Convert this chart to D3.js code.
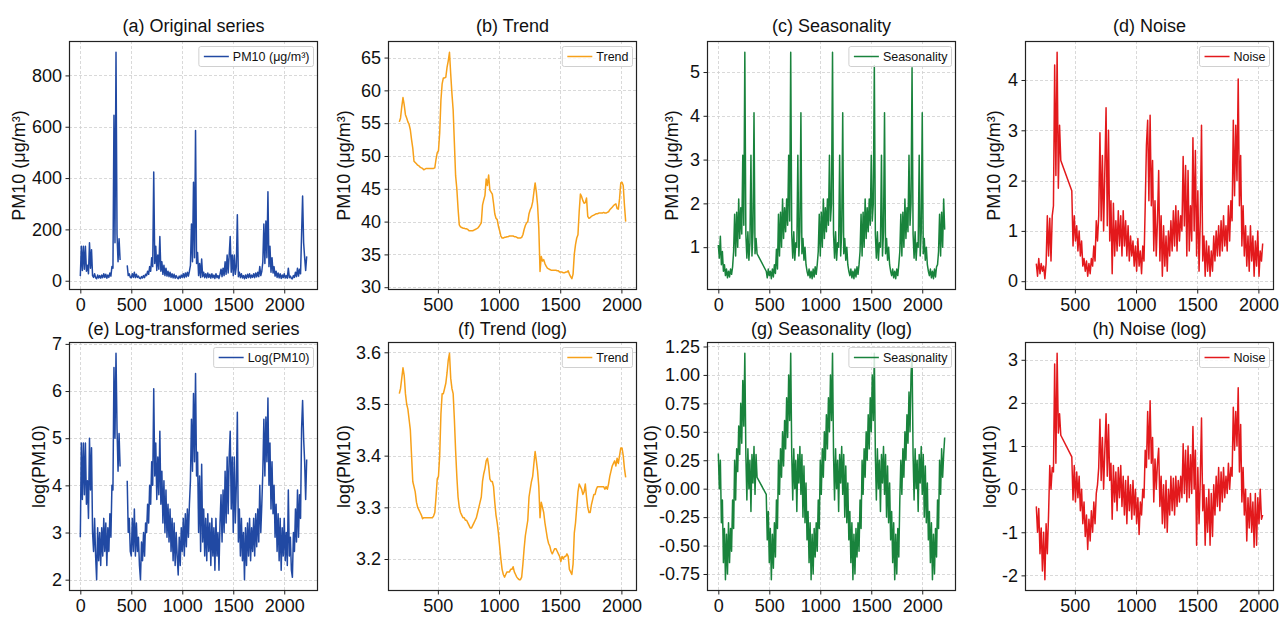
<!DOCTYPE html>
<html>
<head>
  <meta charset="utf-8">
  <title>PM10 decomposition</title>
  <style>
    body { margin: 0; background: #fff; }
    svg#canvas { display: block; font-family: "Liberation Sans", Arial, sans-serif; }
  </style>
</head>
<body>
  <svg id="canvas" width="1282" height="618"></svg>
  <script src="https://cdn.jsdelivr.net/npm/d3@7"></script>
  <script>

    // one value every 10 time steps; null = missing stretch
    const step = 10;

    const origStart = 0;
    const origVals = [
      18, 134, 40, 134, 45, 134, 37, 60, 27, 148,
      49, 121, 20, 13, 27, 12, 8, 22, 11, 20,
      10, 22, 12, 27, 13, 25, 10, 22, 13, 30,
      18, 55, 49, 645, 148, 890, 181, 74, 164, 81,
      null, null, null, null, null, null, 60, 20, 27, 13,
      12, 27, 13, 33, 12, 25, 13, 18, 10, 8,
      16, 11, 20, 12, 25, 20, 37, 25, 55, 37,
      90, 55, 424, 67, 134, 40, 100, 45, 172, 37,
      74, 25, 60, 20, 49, 18, 37, 16, 33, 13,
      27, 11, 25, 10, 20, 12, 8, 18, 10, 22,
      13, 27, 12, 30, 15, 33, 18, 37, 60, 221,
      74, 384, 90, 585, 67, 110, 20, 67, 13, 85,
      16, 33, 12, 27, 11, 30, 13, 25, 10, 27,
      12, 22, 9, 27, 12, 20, 9, 25, 45, 16,
      49, 20, 74, 25, 100, 30, 100, 172, 33, 100,
      20, 100, 25, 55, 257, 16, 33, 12, 27, 11,
      20, 8, 22, 10, 25, 12, 27, 11, 22, 13,
      27, 12, 30, 15, 33, 16, 55, 20, 37, 74,
      221, 67, 233, 90, 347, 55, 134, 33, 90, 30,
      55, 18, 37, 13, 30, 11, 27, 9, 22, 12,
      27, 11, 20, 10, 49, 12, 18, 9, 8, 20,
      13, 33, 16, 49, 18, 45, 27, 181, 330, 148,
      90, 40, 95
    ];

    const logVals = [
      2.9, 4.9, 3.7, 4.9, 3.8, 4.9, 3.6, 4.1, 3.3, 5.0,
      3.9, 4.8, 3.0, 2.6, 3.3, 2.5, 2.0, 3.1, 2.4, 3.0,
      2.3, 3.1, 2.5, 3.3, 2.6, 3.2, 2.3, 3.1, 2.6, 3.4,
      2.9, 4.0, 3.9, 6.5, 5.0, 6.8, 5.2, 4.3, 5.1, 4.4,
      null, null, null, null, null, null, 4.1, 3.0, 3.3, 2.6,
      2.5, 3.3, 2.6, 3.5, 2.5, 3.2, 2.6, 2.9, 2.3, 2.0,
      2.8, 2.4, 3.0, 2.5, 3.2, 3.0, 3.6, 3.2, 4.0, 3.6,
      4.5, 4.0, 6.05, 4.2, 4.9, 3.7, 4.6, 3.8, 5.15, 3.6,
      4.3, 3.2, 4.1, 3.0, 3.9, 2.9, 3.6, 2.8, 3.5, 2.6,
      3.3, 2.4, 3.2, 2.3, 3.0, 2.5, 2.1, 2.9, 2.3, 3.1,
      2.6, 3.3, 2.5, 3.4, 2.7, 3.5, 2.9, 3.6, 4.1, 5.4,
      4.3, 5.95, 4.5, 6.37, 4.2, 4.7, 3.0, 4.2, 2.6, 4.45,
      2.8, 3.5, 2.5, 3.3, 2.4, 3.4, 2.6, 3.2, 2.3, 3.3,
      2.5, 3.1, 2.2, 3.3, 2.5, 3.0, 2.2, 3.2, 3.8, 2.8,
      3.9, 3.0, 4.3, 3.2, 4.6, 3.4, 4.6, 5.15, 3.5, 4.6,
      3.0, 4.6, 3.2, 4.0, 5.55, 2.8, 3.5, 2.5, 3.3, 2.4,
      3.0, 2.0, 3.1, 2.3, 3.2, 2.5, 3.3, 2.4, 3.1, 2.6,
      3.3, 2.5, 3.4, 2.7, 3.5, 2.8, 4.0, 3.0, 3.6, 4.3,
      5.4, 4.2, 5.45, 4.5, 5.85, 4.0, 4.9, 3.5, 4.5, 3.4,
      4.0, 2.9, 3.6, 2.6, 3.4, 2.4, 3.3, 2.2, 3.1, 2.5,
      3.3, 2.4, 3.0, 2.3, 3.9, 2.5, 2.9, 2.2, 2.05, 3.0,
      2.6, 3.5, 2.8, 3.9, 2.9, 3.8, 3.3, 5.2, 5.8, 5.0,
      4.5, 3.7, 4.55
    ];

    const seasVals = [
      1.05, 0.75, 1.25, 0.6, 0.9, 0.45, 0.6, 0.35, 0.5, 0.3,
      0.45, 0.32, 0.5, 0.38, 0.55, 0.9, 1.75, 0.8, 1.8, 1.0,
      2.1, 1.2, 1.9, 1.3, 3.1, 1.5, 5.45, 1.3, 0.75, 1.35,
      0.7, 1.1, 3.1, 0.8, 1.35, 4.07, 0.85, 1.2, 0.85, null,
      null, null, null, null, null, null, null, 0.45, 0.3, 0.5,
      0.35, 0.45, 0.28, 0.5, 0.32, 0.6, 0.4, 0.95, 0.5, 1.75,
      0.8, 1.8, 1.0, 2.1, 1.2, 1.9, 1.35, 2.1, 1.5, 3.1,
      1.6, 5.45, 1.3, 0.75, 1.35, 0.7, 1.1, 1.0, 3.1, 0.8,
      1.35, 4.07, 0.85, 1.2, 0.7, 1.0, 0.6, 0.45, 0.35, 0.5,
      0.3, 0.45, 0.28, 0.5, 0.32, 0.55, 0.38, 0.6, 0.9, 1.75,
      0.8, 1.8, 1.0, 2.1, 1.2, 1.9, 1.35, 2.1, 1.5, 3.1,
      1.6, 2.0, 5.45, 1.3, 0.75, 1.35, 0.7, 1.1, 1.0, 3.1,
      0.8, 1.35, 4.07, 0.85, 1.2, 0.7, 1.0, 0.6, 0.45, 0.35,
      0.5, 0.3, 0.45, 0.28, 0.5, 0.32, 0.55, 0.38, 0.6, 0.9,
      1.75, 0.8, 1.8, 1.0, 2.1, 1.2, 1.9, 1.35, 2.1, 1.5,
      3.1, 1.6, 2.0, 5.15, 1.3, 0.75, 1.35, 0.7, 1.1, 1.0,
      3.1, 0.8, 1.35, 4.07, 0.85, 1.2, 0.7, 1.0, 0.6, 0.45,
      0.35, 0.5, 0.3, 0.45, 0.28, 0.5, 0.35, 0.6, 0.9, 1.75,
      0.8, 1.8, 1.0, 2.1, 1.2, 1.9, 1.35, 3.1, 1.5, 2.0,
      5.1, 1.3, 0.75, 1.35, 0.7, 1.1, 1.0, 3.1, 0.8, 1.35,
      4.07, 0.85, 1.2, 0.7, 1.0, 0.6, 0.45, 0.35, 0.5, 0.3,
      0.45, 0.28, 0.5, 0.32, 0.55, 0.6, 0.9, 1.75, 0.8, 1.8,
      1.0, 2.1, 1.4
    ];

    const logSeasVals = [
      0.31, 0.0, 0.25, -0.3, -0.1, -0.65, -0.35, -0.8, -0.4, -0.75,
      -0.3, -0.65, -0.35, -0.55, -0.1, -0.35, 0.25, -0.1, 0.35, 0.15,
      0.55, 0.3, 0.75, 0.4, 0.95, 0.55, 1.19, 0.3, -0.1, 0.35,
      0.0, 0.25, -0.2, 0.3, 0.05, 0.37, -0.05, 0.3, 0.1, null,
      null, null, null, null, null, null, null, -0.05, -0.45, -0.2,
      -0.65, -0.35, -0.8, -0.4, -0.7, -0.3, -0.6, -0.1, -0.35, 0.25,
      -0.05, 0.35, 0.1, 0.5, 0.2, 0.6, 0.35, 0.8, 0.45, 1.0,
      0.6, 1.19, 0.3, -0.1, 0.35, 0.0, 0.25, -0.2, 0.3, 0.05,
      0.37, -0.05, 0.3, -0.25, 0.2, -0.3, 0.05, -0.45, -0.2, -0.65,
      -0.3, -0.8, -0.4, -0.75, -0.35, -0.6, -0.3, -0.55, -0.1, -0.35,
      0.25, -0.05, 0.35, 0.1, 0.5, 0.25, 0.65, 0.35, 0.8, 0.5,
      1.0, 0.6, 1.19, 0.3, -0.1, 0.35, 0.0, 0.25, -0.2, 0.3,
      0.05, 0.37, -0.05, 0.3, -0.25, 0.2, -0.3, 0.05, -0.45, -0.2,
      -0.65, -0.3, -0.8, -0.4, -0.75, -0.35, -0.6, -0.3, -0.55, -0.1,
      -0.35, 0.25, -0.05, 0.35, 0.1, 0.5, 0.25, 0.65, 0.35, 0.8,
      0.5, 1.0, 0.6, 1.19, 0.3, -0.1, 0.35, 0.0, 0.25, -0.2,
      0.3, 0.05, 0.37, -0.05, 0.3, -0.25, 0.2, -0.3, 0.05, -0.45,
      -0.2, -0.65, -0.3, -0.8, -0.4, -0.75, -0.35, -0.6, -0.1, 0.25,
      -0.05, 0.35, 0.1, 0.5, 0.25, 0.65, 0.4, 0.85, 0.5, 1.0,
      1.19, 0.3, -0.1, 0.35, 0.0, 0.25, -0.2, 0.3, 0.05, 0.37,
      -0.05, 0.3, -0.25, 0.2, -0.3, 0.05, -0.45, -0.2, -0.65, -0.3,
      -0.8, -0.4, -0.75, -0.35, -0.6, -0.1, -0.35, 0.25, -0.05, 0.35,
      0.1, 0.3, 0.45
    ];

    const trendStart = 185;
    const trendVals = [
      55.2, 55.8, 57.5, 58.9, 57.8, 56.3, 55.8, 55.2, 54.8, 54.0,
      52.5, 51.2, 49.2, 49.0, 48.8, 48.6, 48.5, 48.3, 48.2, 48.1,
      47.9, 48.0, 48.1, 48.1, 48.1, 48.1, 48.1, 48.1, 48.1, 48.2,
      49.5, 50.5, 50.8, 53.5, 58.5, 61.0, 61.9, 61.9, 62.0, 63.5,
      64.5, 65.8, 62.5, 59.5, 57.0, 52.0, 47.0, 45.0, 42.0, 39.5,
      39.2, 39.1, 39.0, 39.0, 38.9, 38.9, 38.8, 38.6, 38.6, 38.6,
      38.6, 38.7, 38.8, 38.9, 39.0, 39.2, 39.5, 39.8, 42.5, 43.3,
      44.0, 46.5, 45.5, 47.1, 44.8, 44.5, 44.2, 42.8, 41.2, 40.5,
      40.3, 39.3, 38.6, 37.8, 37.5, 37.5, 37.6, 37.6, 37.7, 37.7,
      37.8, 37.8, 37.8, 37.8, 37.7, 37.7, 37.6, 37.5, 37.5, 37.5,
      37.6, 38.0, 38.8, 39.4, 39.8, 40.0, 41.2, 41.8, 42.2, 43.0,
      44.5, 45.9, 44.5, 42.5, 39.0, 32.4, 34.7, 34.0, 34.2, 33.6,
      33.2, 32.9, 32.8, 32.7, 32.6, 32.6, 32.6, 32.6, 32.6, 32.5,
      32.5, 32.3, 32.3, 32.3, 32.2, 32.2, 32.3, 32.3, 32.5, 32.0,
      31.6, 31.3, 32.0, 35.0, 36.5, 37.5, 38.0, 41.5, 44.2, 43.8,
      43.2, 42.8, 42.9, 43.6, 40.8, 40.5, 40.6, 40.8, 40.9, 41.0,
      41.1, 41.2, 41.2, 41.3, 41.3, 41.3, 41.3, 41.4, 41.3, 41.3,
      41.4, 41.5, 41.8, 42.0, 42.2, 42.4, 42.6, 42.7, 42.0, 41.9,
      43.5, 45.9, 46.0, 45.5, 42.5, 40.0
    ];

    const logTrendVals = [
      3.52, 3.53, 3.55, 3.57, 3.555, 3.52, 3.50, 3.49, 3.47, 3.45,
      3.40, 3.35, 3.34, 3.33, 3.31, 3.30, 3.295, 3.29, 3.285, 3.278,
      3.28, 3.28, 3.28, 3.28, 3.28, 3.28, 3.28, 3.28, 3.283, 3.29,
      3.32, 3.355, 3.36, 3.40, 3.48, 3.52, 3.52, 3.53, 3.54, 3.56,
      3.585, 3.598, 3.55, 3.53, 3.52, 3.47, 3.41, 3.36, 3.32, 3.30,
      3.29, 3.285, 3.28, 3.28, 3.275, 3.275, 3.27, 3.265, 3.26, 3.26,
      3.265, 3.27, 3.275, 3.28, 3.29, 3.30, 3.31, 3.32, 3.35, 3.365,
      3.375, 3.39, 3.395, 3.38, 3.355, 3.35, 3.35, 3.34, 3.31, 3.285,
      3.27, 3.25, 3.225, 3.20, 3.18, 3.17, 3.165, 3.17, 3.175, 3.175,
      3.175, 3.18, 3.18, 3.185, 3.175, 3.17, 3.165, 3.162, 3.16, 3.16,
      3.165, 3.19, 3.22, 3.245, 3.26, 3.275, 3.32, 3.335, 3.35, 3.36,
      3.385, 3.408, 3.39, 3.37, 3.34, 3.28, 3.31, 3.30, 3.29, 3.27,
      3.255, 3.24, 3.23, 3.225, 3.215, 3.21, 3.215, 3.22, 3.22, 3.215,
      3.21, 3.205, 3.195, 3.205, 3.20, 3.205, 3.205, 3.21, 3.205, 3.18,
      3.175, 3.17, 3.19, 3.25, 3.27, 3.30, 3.33, 3.345, 3.34, 3.335,
      3.325, 3.33, 3.345, 3.32, 3.30, 3.29, 3.29, 3.305, 3.315, 3.325,
      3.325, 3.335, 3.34, 3.34, 3.34, 3.34, 3.34, 3.34, 3.335, 3.34,
      3.335, 3.345, 3.36, 3.37, 3.38, 3.385, 3.39, 3.38, 3.395, 3.385,
      3.40, 3.415, 3.415, 3.40, 3.375, 3.358
    ];

    const noiseVals = [
      0.35, 0.1, 0.45, 0.15, 0.35, 0.2, 0.3, 0.05, 0.35, 1.3,
      0.5, 1.25, 0.4, 1.3, 1.5, 4.3, 2.1, 4.55, 1.85, 3.1,
      2.4, null, null, null, null, null, null, null, null, 1.8,
      0.7, 1.3, 0.8, 1.1, 0.6, 1.0, 0.5, 0.8, 0.3, 0.45,
      0.2, 0.4, 0.1, 0.35, 0.15, 0.45, 0.3, 0.7, 0.4, 1.2,
      0.8, 1.3, 2.95, 1.2, 2.5, 1.0, 2.2, 3.45, 1.1, 3.0,
      0.8, 1.6, 0.15, 1.55, 0.5, 1.2, 0.6, 1.4, 0.7, 1.3,
      0.5, 1.4, 0.7, 1.2, 0.5, 1.1, 0.4, 0.9, 0.5, 0.8,
      0.3, 0.7, 0.2, 0.85, 0.3, 0.6, 0.15, 0.7, 0.4, 1.5,
      2.7, 3.2, 1.6, 3.3, 1.5, 2.4, 0.6, 1.6, 0.5, 1.2,
      2.2, 0.4, 1.3, 0.1, 1.1, 0.3, 0.9, 0.2, 1.0, 0.5,
      1.2, 0.6, 1.4, 0.7, 1.5, 0.6, 1.4, 0.8, 1.3, 1.0,
      2.48, 1.1, 2.3, 0.5, 2.2, 0.6, 1.5, 0.8, 2.85, 1.0,
      2.6, 0.5, 1.8, 0.2, 1.2, 3.1, 0.4, 0.9, 0.1, 0.8,
      0.2, 0.7, 0.1, 0.6, 0.2, 0.9, 0.4, 1.0, 0.5, 1.1,
      0.5, 1.2, 0.6, 1.3, 0.7, 1.1, 0.6, 1.5, 0.8, 1.6,
      1.2, 3.2, 1.7, 3.1, 2.0, 4.02, 1.5, 2.5, 0.7, 1.5,
      0.5, 1.1, 0.3, 0.9, 0.2, 1.1, 0.4, 0.9, 0.1, 0.8,
      0.3, 1.0, 0.1, 0.6, 0.4, 0.75
    ];

    const logNoiseVals = [
      -0.4, -1.0, -0.45, -1.5, -0.9, -1.9, -1.0, -2.1, -0.8, -1.5,
      -0.6, 0.55, 0.0, 0.5, 0.4, 2.9, 0.6, 3.15, 1.3, 1.75,
      1.25, null, null, null, null, null, null, null, null, 0.75,
      -0.25, 0.55, -0.3, 0.4, -0.2, 0.3, -0.5, 0.0, -0.8, -0.3,
      -1.1, -0.6, -1.4, -0.7, -1.2, -0.5, -1.0, -0.3, -0.8, -0.1,
      0.1, 0.5, 1.62, 0.2, 1.2, 0.0, 0.9, 1.75, 0.3, 1.5,
      0.2, 0.6, -0.7, 0.55, -0.3, 0.4, -0.5, 0.5, -0.2, 0.55,
      -0.4, 0.3, -0.6, 0.2, -0.8, 0.3, -0.5, 0.1, -0.7, 0.2,
      -0.6, 0.0, -0.8, -0.2, -1.05, -0.3, -0.6, 0.0, -0.2, 0.9,
      0.5, 1.8, 0.7, 2.05, 0.6, 1.2, -0.3, 0.7, 0.0, 0.6,
      0.95, -0.4, 0.3, -0.8, 0.1, -0.9, 0.2, -1.0, 0.0, -0.6,
      0.3, -0.5, 0.25, -0.6, 0.3, -0.4, 0.2, -0.3, 0.3, -0.2,
      1.05, -0.1, 0.9, -0.3, 1.0, -0.2, 0.8, -0.1, 1.45, 0.0,
      0.9, -1.3, 0.5, -0.8, 0.2, 1.65, -0.5, 0.1, -1.3, -0.2,
      -1.0, 0.0, -1.3, -0.1, -1.1, 0.1, -0.6, 0.3, -0.4, 0.5,
      -0.5, 0.4, -0.3, 0.5, -0.2, 0.3, -0.1, 0.6, 0.0, 0.5,
      0.3, 1.9, 0.9, 1.8, 1.0, 2.35, 0.4, 1.5, -0.3, 0.5,
      -0.6, 0.0, -1.2, -0.2, -0.9, -0.1, -1.0, -0.3, -1.35, -0.1,
      -1.3, -0.2, -0.8, 0.0, -0.7, -0.6
    ];

    const xTicksAll = [0, 500, 1000, 1500, 2000];
    const xTicksMid = [500, 1000, 1500, 2000];

    const blue = "#2149a3", orange = "#f7a11a", green = "#19833c", red = "#e3191c";
    const pm = "PM10 (μg/m³)";

    const panels = [
      { r: 0, c: 0, title: "(a) Original series", x0: origStart, vals: origVals, color: blue, key: pm, ylab: pm, xt: xTicksAll, yt: [0, 200, 400, 600, 800], gap: true, lab: 44 },
      { r: 0, c: 1, title: "(b) Trend", x0: trendStart, vals: trendVals, color: orange, key: "Trend", ylab: pm, xt: xTicksMid, yt: [30, 35, 40, 45, 50, 55, 60, 65], lab: 38.5 },
      { r: 0, c: 2, title: "(c) Seasonality", x0: origStart, vals: seasVals, color: green, key: "Seasonality", ylab: pm, xt: xTicksAll, yt: [1, 2, 3, 4, 5], lab: 29 },
      { r: 0, c: 3, title: "(d) Noise", x0: trendStart, vals: noiseVals, color: red, key: "Noise", ylab: pm, xt: xTicksMid, yt: [0, 1, 2, 3, 4], lab: 25.5 },
      { r: 1, c: 0, title: "(e) Log-transformed series", x0: origStart, vals: logVals, color: blue, key: "Log(PM10)", ylab: "log(PM10)", xt: xTicksAll, yt: [2, 3, 4, 5, 6, 7], gap: true, lab: 24.5 },
      { r: 1, c: 1, title: "(f) Trend (log)", x0: trendStart, vals: logTrendVals, color: orange, key: "Trend", ylab: "log(PM10)", xt: xTicksMid, yt: [3.2, 3.3, 3.4, 3.5, 3.6], fmt: d => d.toFixed(1), lab: 38.5 },
      { r: 1, c: 2, title: "(g) Seasonality (log)", x0: origStart, vals: logSeasVals, color: green, key: "Seasonality", ylab: "log(PM10)", xt: xTicksAll, yt: [-0.75, -0.5, -0.25, 0, 0.25, 0.5, 0.75, 1, 1.25], fmt: d => d.toFixed(2), lab: 50 },
      { r: 1, c: 3, title: "(h) Noise (log)", x0: trendStart, vals: logNoiseVals, color: red, key: "Noise", ylab: "log(PM10)", xt: xTicksMid, yt: [-2, -1, 0, 1, 2, 3], lab: 29.5 }
    ];

    const W = 249, H = 249;
    const colX = [69, 388, 707, 1025];
    const rowY = [41, 342];
    const titleY = [-9, -7];

    const svg = d3.select("svg#canvas");
    svg.append("rect").attr("width", 1282).attr("height", 618).attr("fill", "#fff");

    const pad = ([a, b]) => [a - (b - a) * 0.05, b + (b - a) * 0.05];

    const drawPanel = p => {
      const g = svg.append("g").attr("transform", "translate(" + colX[p.c] + "," + rowY[p.r] + ")");
      const pts = p.vals.map((v, i) => [p.x0 + i * step, v]);
      const ok = pts.filter(d => d[1] !== null);

      const x = d3.scaleLinear().domain(pad(d3.extent(ok, d => d[0]))).range([0, W]);
      const y = d3.scaleLinear().domain(pad(d3.extent(ok, d => d[1]))).range([H, 0]);
      const yFmt = p.fmt || (d => String(d));

      // dashed grid
      const grid = g.append("g").attr("stroke", "#cfcfcf").attr("stroke-width", 0.8).attr("stroke-dasharray", "3,2");
      grid.selectAll(".gx").data(p.xt).enter().append("line")
        .attr("x1", d => Math.round(x(d)) + 0.5).attr("x2", d => Math.round(x(d)) + 0.5)
        .attr("y1", 0).attr("y2", H);
      grid.selectAll(".gy").data(p.yt).enter().append("line")
        .attr("y1", d => Math.round(y(d)) + 0.5).attr("y2", d => Math.round(y(d)) + 0.5)
        .attr("x1", 0).attr("x2", W);

      // series
      const line = d3.line().defined(d => d[1] !== null).x(d => x(d[0])).y(d => y(d[1]));
      g.append("path").datum(p.gap ? pts : ok)
        .attr("d", line)
        .attr("fill", "none")
        .attr("stroke", p.color)
        .attr("stroke-width", 1.5)
        .attr("stroke-linejoin", "round");

      // axes
      const ax = g.append("g").attr("transform", "translate(0," + H + ")")
        .call(d3.axisBottom(x).tickValues(p.xt).tickFormat(d => String(d)).tickSize(3.5).tickPadding(5));
      const ay = g.append("g")
        .call(d3.axisLeft(y).tickValues(p.yt).tickFormat(yFmt).tickSize(3.5).tickPadding(3.5));
      [ax, ay].forEach(a => {
        a.select(".domain").remove();
        a.selectAll("line").attr("stroke", "#222");
        a.selectAll("text").attr("font-size", 18).attr("fill", "#111")
          .attr("font-family", "'Liberation Sans', Arial, sans-serif");
      });

      // frame
      g.append("rect").attr("x", 0.5).attr("y", 0.5).attr("width", W - 1).attr("height", H - 1)
        .attr("fill", "none").attr("stroke", "#222").attr("stroke-width", 1.2);

      // title and y label
      g.append("text").attr("x", W / 2).attr("y", titleY[p.r])
        .attr("text-anchor", "middle").attr("font-size", 18).attr("fill", "#111").text(p.title);
      g.append("text").attr("transform", "translate(" + (-p.lab) + "," + (H / 2) + ") rotate(-90)")
        .attr("text-anchor", "middle").attr("font-size", 18).attr("fill", "#111").text(p.ylab);

      // legend
      const lg = g.append("g");
      const lt = lg.append("text").attr("font-size", 12.5).attr("fill", "#111").text(p.key);
      const tw = lt.node().getComputedTextLength();
      const bw = tw + 38, bh = 20;
      const bx = W - 4.5 - bw, by = 5.5;
      lg.insert("rect", "text").attr("x", bx).attr("y", by).attr("width", bw).attr("height", bh)
        .attr("rx", 2).attr("fill", "#fff").attr("fill-opacity", 0.8).attr("stroke", "#d0d0d0");
      lg.append("line").attr("x1", bx + 5).attr("x2", bx + 30).attr("y1", by + bh / 2).attr("y2", by + bh / 2)
        .attr("stroke", p.color).attr("stroke-width", 1.5);
      lt.attr("x", bx + 34).attr("y", by + bh / 2).attr("dy", "0.35em");
    };

    panels.forEach(drawPanel);

  </script>
</body>
</html>
